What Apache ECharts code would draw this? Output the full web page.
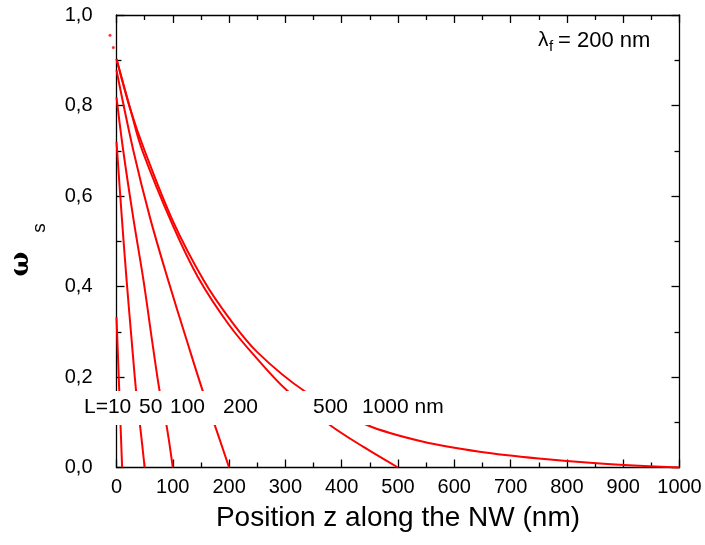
<!DOCTYPE html>
<html><head><meta charset="utf-8">
<script src="https://cdn.jsdelivr.net/npm/echarts@6/dist/echarts.min.js"></script>
<style>html,body{margin:0;padding:0;background:#fff}#c{width:705px;height:545px}</style>
</head><body><div id="c"></div>
<script>
// ---- data ----
const xTickValues = [0, 100, 200, 300, 400, 500, 600, 700, 800, 900, 1000];
const yTickValues = [0, 0.2, 0.4, 0.6, 0.8, 1.0];
const lengths = [10, 50, 100, 200, 500, 1000];

const zL10 = [0, 10];
const wL10 = [0.332, 0];
const zL50 = [0, 9, 18, 27, 35, 43, 50];
const wL50 = [0.72, 0.56, 0.413, 0.28, 0.166, 0.08, 0];
const zL100 = [0, 12, 30, 48, 65, 77, 89, 100];
const wL100 = [0.818, 0.70, 0.55, 0.413, 0.265, 0.166, 0.092, 0];
const zL200 = [0, 30, 60, 92, 125, 154, 175, 200];
const wL200 = [0.878, 0.70, 0.55, 0.413, 0.28, 0.166, 0.092, 0];
const zL500 = [0, 25, 46, 100, 145, 200, 250, 303, 379, 438, 500];
const wL500 = [0.903, 0.79, 0.70, 0.535, 0.42, 0.315, 0.24, 0.17, 0.094, 0.046, 0];
const zL1000 = [0, 25, 50, 100, 155, 200, 250, 335, 445, 545, 645, 750, 859, 1000];
const wL1000 = [0.903, 0.79, 0.70, 0.545, 0.413, 0.33, 0.255, 0.168, 0.094, 0.057, 0.035, 0.02, 0.009, 0];

const strayZ = [-11.5, -5.7];
const strayW = [0.955, 0.928];

const curveLabels = ['L=10', '50', '100', '200', '500', '1000 nm'];
const paramLabel = ['λ', 'f', '= 200 nm'];
const yTitle = ['ω', 's'];
const xTitle = 'Position z along the NW (nm)';

// ---- build ----
const zs = [zL10, zL50, zL100, zL200, zL500, zL1000];
const ws = [wL10, wL50, wL100, wL200, wL500, wL1000];
const zip = (a, b) => a.map((v, i) => [v, b[i]]);

const FONT = 'Liberation Sans, Arial, sans-serif';
const axisLineStyle = { color: '#000', width: 1.3 };

const series = lengths.map((L, i) => ({
  name: 'L=' + L,
  type: 'line',
  data: zip(zs[i], ws[i]),
  smooth: 0.35,
  showSymbol: false,
  clip: false,
  lineStyle: { color: '#ff0000', width: 2 },
  z: 3
}));
series.push({
  type: 'scatter',
  data: zip(strayZ, strayW),
  symbolSize: 3,
  clip: false,
  itemStyle: { color: '#ff0000' },
  z: 3
});

const labelX = [84, 139, 170, 223, 313, 362];
const graphics = [
  { type: 'rect', z: 100, shape: { x: 80, y: 391, width: 372, height: 34 }, style: { fill: '#fff' } }
];
curveLabels.forEach((t, i) => {
  graphics.push({ type: 'text', z: 101, left: labelX[i], top: 397,
    style: { text: t, font: '21px ' + FONT, fill: '#000' } });
});
graphics.push({ type: 'text', z: 101, x: 538, y: 40,
  style: { text: paramLabel[0], font: '21px ' + FONT, fill: '#000', verticalAlign: 'middle', align: 'left' } });
graphics.push({ type: 'text', z: 101, x: 549, y: 47,
  style: { text: paramLabel[1], font: '15px ' + FONT, fill: '#000', verticalAlign: 'middle', align: 'left' } });
graphics.push({ type: 'text', z: 101, x: 558, y: 41,
  style: { text: paramLabel[2], font: '22px ' + FONT, fill: '#000', verticalAlign: 'middle', align: 'left' } });
graphics.push({ type: 'text', z: 101, x: 21, y: 264, rotation: Math.PI / 2,
  style: { text: yTitle[0], font: 'bold 26px DejaVu Serif, serif', fill: '#000', verticalAlign: 'middle', align: 'center' } });
graphics.push({ type: 'text', z: 101, x: 40, y: 228, rotation: Math.PI / 2,
  style: { text: yTitle[1], font: '19px ' + FONT, fill: '#000', verticalAlign: 'middle', align: 'center' } });

const fmtY = v => v.toFixed(1).replace('.', ',');
const fmtX = v => String(v);

const option = {
  animation: false,
  backgroundColor: '#fff',
  grid: { left: 116.5, right: 25.5, top: 15, bottom: 77.5, containLabel: false },
  xAxis: [{
    type: 'value', min: xTickValues[0], max: xTickValues[xTickValues.length - 1], interval: 100,
    position: 'bottom',
    axisLine: { show: true, onZero: false, lineStyle: axisLineStyle },
    axisTick: { show: true, inside: true, length: 8, lineStyle: axisLineStyle },
    minorTick: { show: true, splitNumber: 2, length: 5, lineStyle: axisLineStyle },
    splitLine: { show: false },
    axisLabel: { color: '#000', fontSize: 20, fontFamily: FONT, margin: 10, formatter: fmtX },
    name: xTitle, nameLocation: 'middle', nameGap: 37,
    nameTextStyle: { color: '#000', fontSize: 28, fontFamily: FONT }
  }, {
    type: 'value', min: 0, max: 1000, interval: 100, position: 'top',
    axisLine: { show: true, onZero: false, lineStyle: axisLineStyle },
    axisTick: { show: true, inside: true, length: 8, lineStyle: axisLineStyle },
    minorTick: { show: true, splitNumber: 2, length: 5, lineStyle: axisLineStyle },
    splitLine: { show: false }, axisLabel: { show: false }
  }],
  yAxis: [{
    type: 'value', min: yTickValues[0], max: yTickValues[yTickValues.length - 1], interval: 0.2,
    position: 'left',
    axisLine: { show: true, onZero: false, lineStyle: axisLineStyle },
    axisTick: { show: true, inside: true, length: 8, lineStyle: axisLineStyle },
    minorTick: { show: true, splitNumber: 2, length: 5, lineStyle: axisLineStyle },
    splitLine: { show: false },
    axisLabel: { color: '#000', fontSize: 20, fontFamily: FONT, margin: 24, formatter: fmtY }
  }, {
    type: 'value', min: 0, max: 1, interval: 0.2, position: 'right',
    axisLine: { show: true, onZero: false, lineStyle: axisLineStyle },
    axisTick: { show: true, inside: true, length: 8, lineStyle: axisLineStyle },
    minorTick: { show: true, splitNumber: 2, length: 5, lineStyle: axisLineStyle },
    splitLine: { show: false }, axisLabel: { show: false }
  }],
  series: series,
  graphic: graphics
};

const chart = echarts.init(document.getElementById('c'), null, { renderer: 'canvas' });
chart.setOption(option);
</script>
</body></html>
